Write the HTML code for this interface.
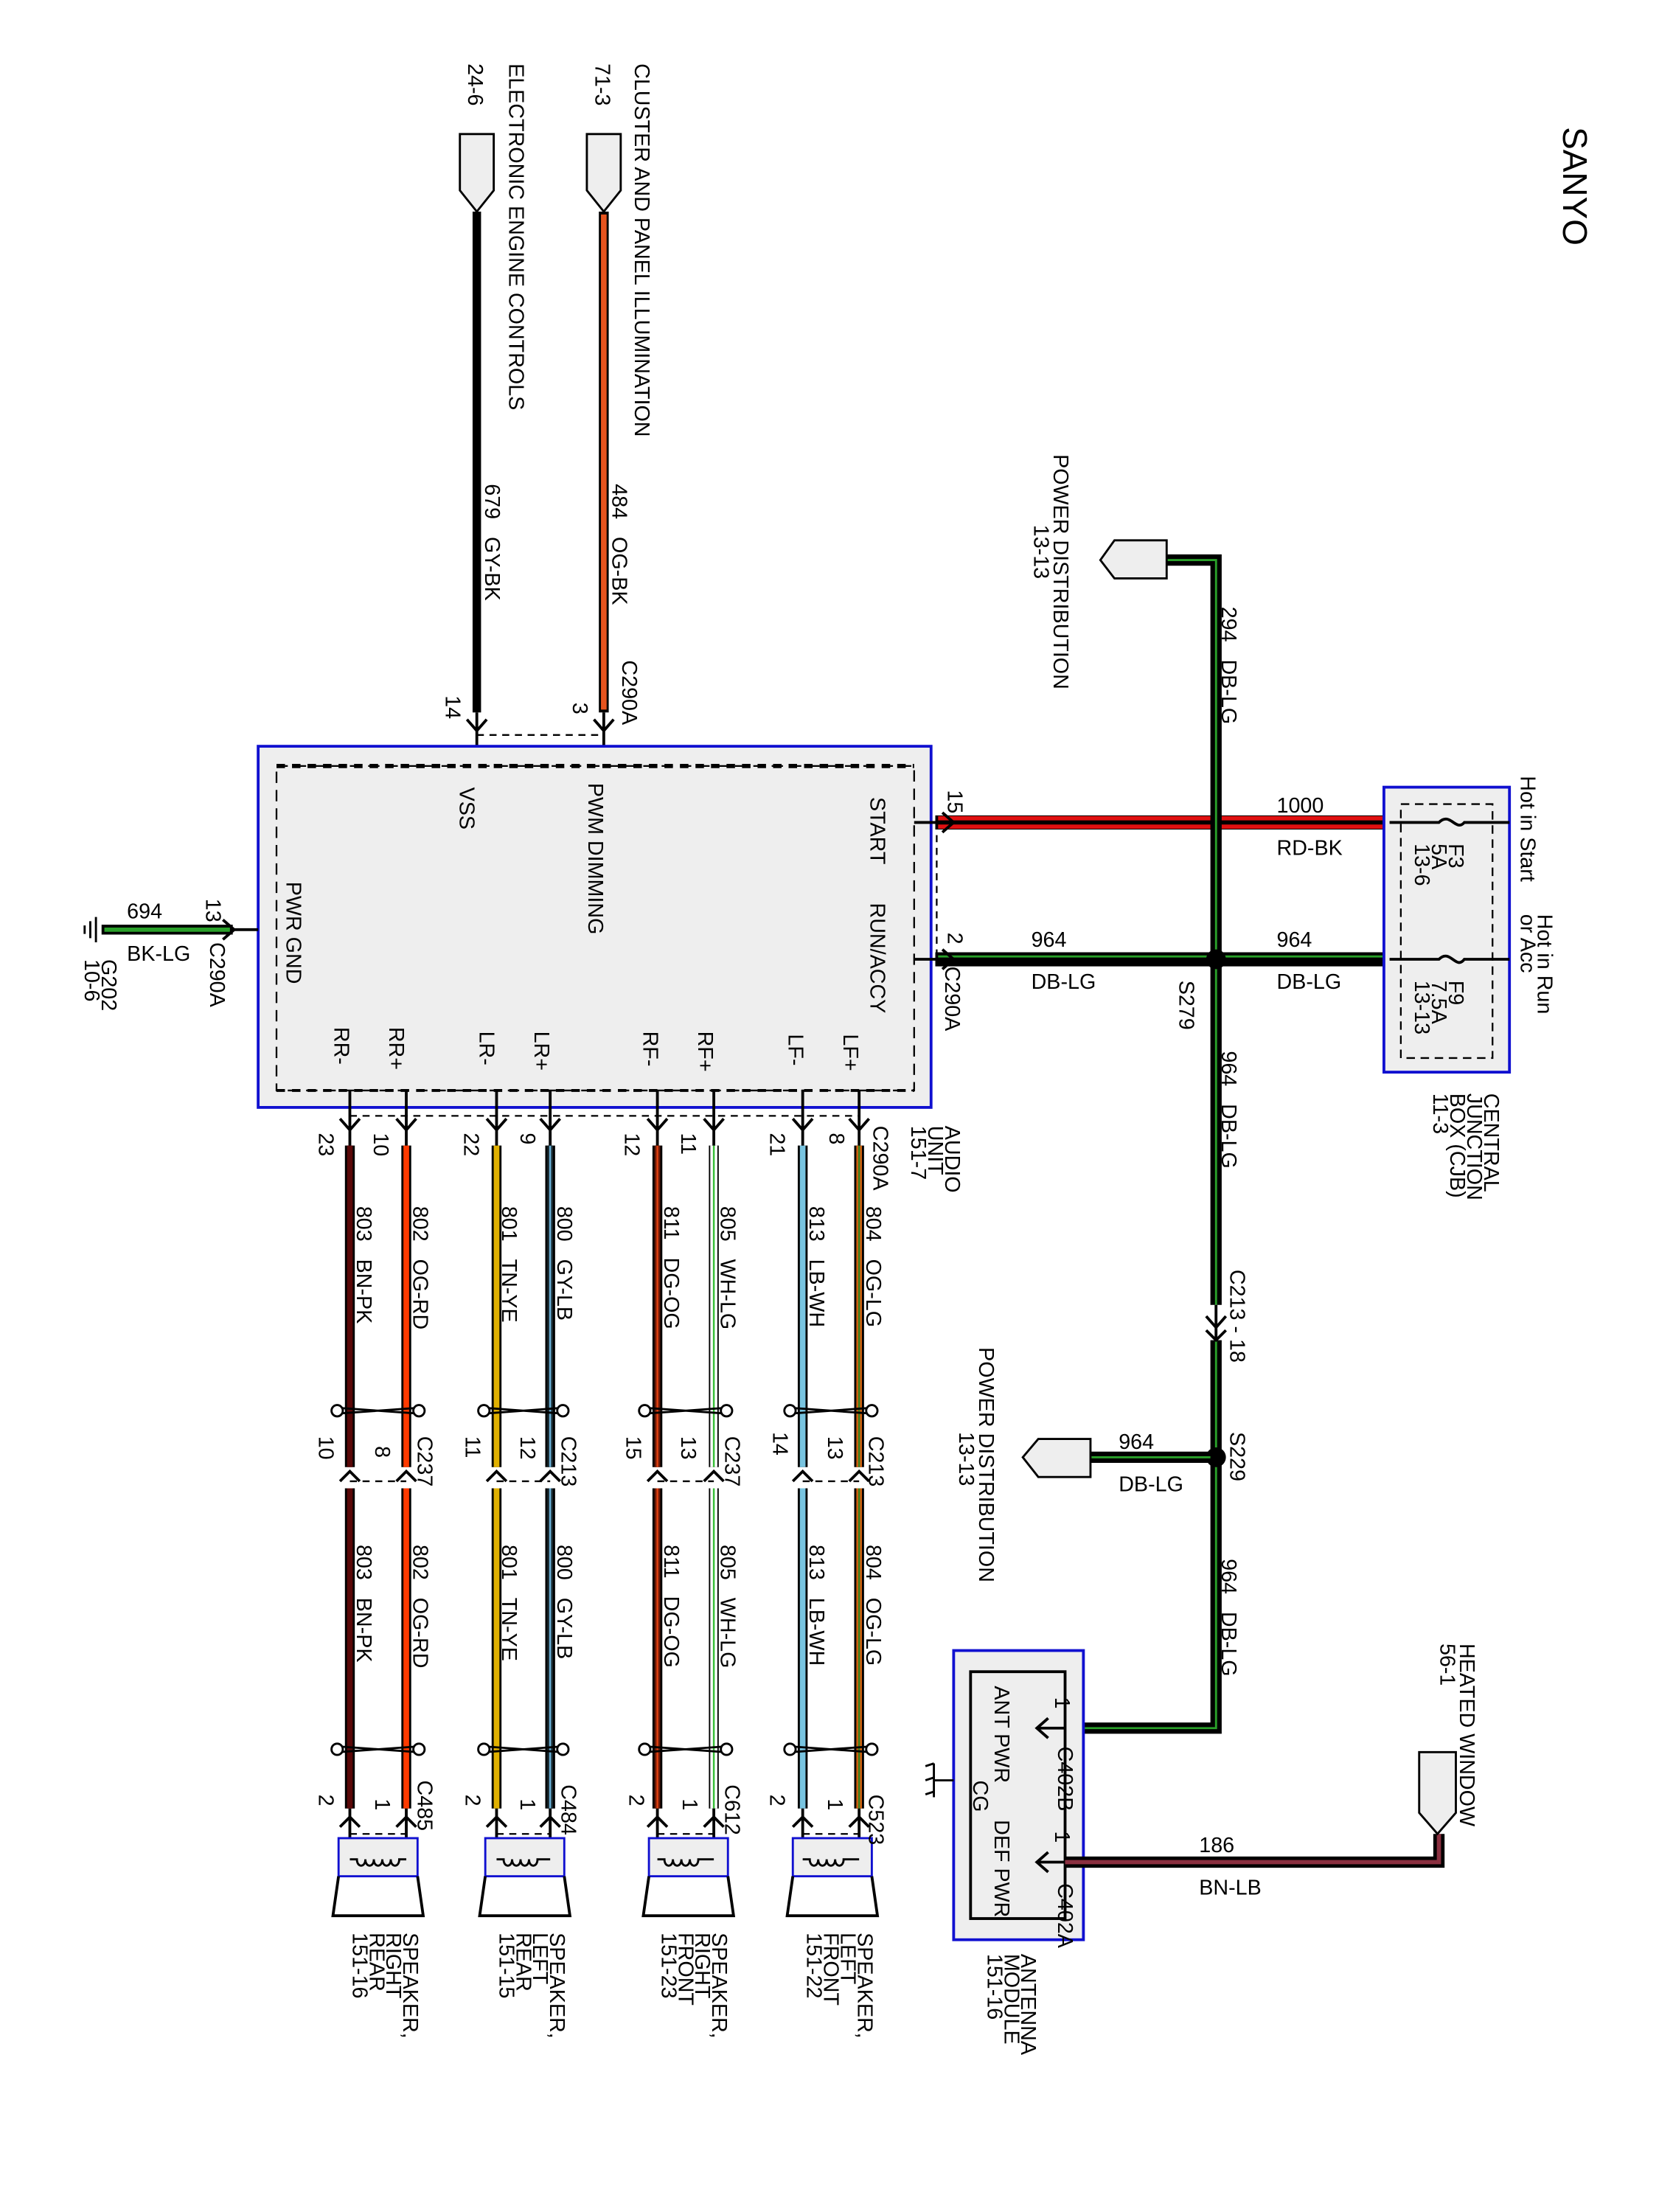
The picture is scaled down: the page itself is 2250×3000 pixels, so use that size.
<!DOCTYPE html>
<html><head><meta charset="utf-8"><style>
html,body{margin:0;padding:0;background:#fff}
svg{display:block}
text{font-family:"Liberation Sans",sans-serif;font-size:15px;fill:#000}
</style></head><body>
<svg width="2250" height="3000" viewBox="0 0 1176 1568" xmlns="http://www.w3.org/2000/svg">
<rect width="1176" height="1568" fill="#fff"/>
<text x="1108" y="90" transform="rotate(90 1108 90)" style="font-size:24px">SANYO</text>

<path d="M326 95 H350 V135 L338 150 L326 135 Z" fill="#eee" stroke="#000" stroke-width="1.5"/>
<path d="M416 95 H440 V135 L428 150 L416 135 Z" fill="#eee" stroke="#000" stroke-width="1.5"/>
<text x="332" y="45" transform="rotate(90 332 45)">24-6</text>
<text x="361" y="45" transform="rotate(90 361 45)">ELECTRONIC ENGINE CONTROLS</text>
<text x="422" y="45" transform="rotate(90 422 45)">71-3</text>
<text x="450" y="45" transform="rotate(90 450 45)">CLUSTER AND PANEL ILLUMINATION</text>
<line x1="338" y1="150" x2="338" y2="505" stroke="#000" stroke-width="6"/>
<line x1="428" y1="150" x2="428" y2="505" stroke="#000" stroke-width="7"/>
<line x1="428" y1="152" x2="428" y2="503" stroke="#e8541e" stroke-width="4"/>
<text x="344" y="343" transform="rotate(90 344 343)">679&#160;&#160;&#160;GY-BK</text>
<text x="434" y="343" transform="rotate(90 434 343)">484&#160;&#160;&#160;OG-BK</text>
<text x="441" y="468" transform="rotate(90 441 468)">C290A</text>
<text x="406" y="498" transform="rotate(90 406 498)">3</text>
<text x="316" y="493" transform="rotate(90 316 493)">14</text>
<g stroke="#000" stroke-width="2" fill="none">
<path d="M331 510 L338 518 L345 510 M338 505 V529 M421 510 L428 518 L435 510 M428 505 V529"/>
<path d="M338 521 H428" stroke-dasharray="5 4" stroke-width="1.2"/>
</g>

<rect x="183" y="529" width="477" height="256" fill="#eee" stroke="#1010d0" stroke-width="2"/>
<rect x="196" y="543" width="452" height="230" fill="none" stroke="#000" stroke-width="1.2" stroke-dasharray="8 5"/>
<line x1="196" y1="543" x2="648" y2="543" stroke="#000" stroke-width="3" stroke-dasharray="6 5"/>
<line x1="196" y1="773" x2="648" y2="773" stroke="#000" stroke-width="2" stroke-dasharray="6 5"/>
<text x="326" y="558" transform="rotate(90 326 558)">VSS</text>
<text x="417" y="555" transform="rotate(90 417 555)">PWM DIMMING</text>
<text x="617" y="565" transform="rotate(90 617 565)">START</text>
<text x="617" y="640" transform="rotate(90 617 640)">RUN/ACCY</text>
<text x="203" y="625" transform="rotate(90 203 625)">PWR GND</text>
<text x="237" y="728" transform="rotate(90 237 728)">RR-</text>
<text x="276" y="728" transform="rotate(90 276 728)">RR+</text>
<text x="340" y="731" transform="rotate(90 340 731)">LR-</text>
<text x="379" y="731" transform="rotate(90 379 731)">LR+</text>
<text x="456" y="731" transform="rotate(90 456 731)">RF-</text>
<text x="495" y="731" transform="rotate(90 495 731)">RF+</text>
<text x="559" y="733" transform="rotate(90 559 733)">LF-</text>
<text x="598" y="733" transform="rotate(90 598 733)">LF+</text>
<text x="670" y="798" transform="rotate(90 670 798)">AUDIO</text>
<text x="658" y="798" transform="rotate(90 658 798)">UNIT</text>
<text x="646" y="798" transform="rotate(90 646 798)">151-7</text>
<text x="619" y="798" transform="rotate(90 619 798)">C290A</text>
<path d="M248 791 H609" stroke="#000" stroke-width="1.2" stroke-dasharray="5 4"/>

<line x1="72" y1="659" x2="165" y2="659" stroke="#000" stroke-width="7"/>
<line x1="74" y1="659" x2="163" y2="659" stroke="#2aa02a" stroke-width="3"/>
<path d="M165 659 H183 M158 652 L166 659 L158 666" stroke="#000" stroke-width="2" fill="none"/>
<path d="M68 650 V668 M64 653 V665 M60 656 V662" stroke="#000" stroke-width="1.5"/>
<text x="90" y="651">694</text>
<text x="90" y="681">BK-LG</text>
<text x="146" y="637" transform="rotate(90 146 637)">13</text>
<text x="149" y="668" transform="rotate(90 149 668)">C290A</text>
<text x="72" y="680" transform="rotate(90 72 680)">G202</text>
<text x="60" y="680" transform="rotate(90 60 680)">10-6</text>

<line x1="663" y1="583" x2="985" y2="583" stroke="#000" stroke-width="10"/>
<line x1="665" y1="580" x2="983" y2="580" stroke="#e01010" stroke-width="3"/>
<line x1="665" y1="586" x2="983" y2="586" stroke="#e01010" stroke-width="3"/>
<line x1="663" y1="680" x2="985" y2="680" stroke="#000" stroke-width="10"/>
<line x1="665" y1="678" x2="983" y2="678" stroke="#2aa02a" stroke-width="1.5"/>
<path d="M648 583 H675 M668 576 L676 583 L668 590 M648 680 H675 M668 673 L676 680 L668 687" stroke="#000" stroke-width="2" fill="none"/>
<path d="M664 583 V680" stroke="#000" stroke-width="1.2" stroke-dasharray="5 4"/>
<text x="672" y="560" transform="rotate(90 672 560)">15</text>
<text x="672" y="661" transform="rotate(90 672 661)">2</text>
<text x="670" y="685" transform="rotate(90 670 685)">C290A</text>
<text x="905" y="576">1000</text>
<text x="905" y="606">RD-BK</text>
<text x="731" y="671">964</text>
<text x="731" y="701">DB-LG</text>
<text x="905" y="671">964</text>
<text x="905" y="701">DB-LG</text>

<path d="M827 397 H862 V1225 H752" stroke="#000" stroke-width="8" fill="none"/>
<path d="M827 397 H862 V1225 H752" stroke="#2aa02a" stroke-width="1.5" fill="none"/>
<rect x="855" y="925" width="14" height="25" fill="#fff"/>
<path d="M862 925 V950 M855 933 L862 941 L869 933 M855 943 L862 950 L869 943" stroke="#000" stroke-width="2" fill="none"/>
<circle cx="862" cy="680" r="7" fill="#000"/>
<circle cx="862" cy="1033" r="7" fill="#000"/>
<path d="M780 397 L790 383 H827 V410 H790 Z" fill="#eee" stroke="#000" stroke-width="1.5"/>
<text x="747" y="322" transform="rotate(90 747 322)">POWER DISTRIBUTION</text>
<text x="733" y="372" transform="rotate(90 733 372)">13-13</text>
<text x="866" y="430" transform="rotate(90 866 430)">294&#160;&#160;&#160;DB-LG</text>
<text x="836" y="695" transform="rotate(90 836 695)">S279</text>
<text x="866" y="745" transform="rotate(90 866 745)">964&#160;&#160;&#160;DB-LG</text>
<text x="872" y="900" transform="rotate(90 872 900)">C213 - 18</text>
<text x="872" y="1015" transform="rotate(90 872 1015)">S229</text>
<text x="866" y="1105" transform="rotate(90 866 1105)">964&#160;&#160;&#160;DB-LG</text>
<line x1="773" y1="1033" x2="862" y2="1033" stroke="#000" stroke-width="8"/>
<line x1="773" y1="1033" x2="858" y2="1033" stroke="#2aa02a" stroke-width="1.5"/>
<path d="M725 1033 L736 1020 H773 V1047 H736 Z" fill="#eee" stroke="#000" stroke-width="1.5"/>
<text x="793" y="1027">964</text>
<text x="793" y="1057">DB-LG</text>
<text x="694" y="955" transform="rotate(90 694 955)">POWER DISTRIBUTION</text>
<text x="680" y="1015" transform="rotate(90 680 1015)">13-13</text>

<rect x="981" y="558" width="89" height="202" fill="#eee" stroke="#1010d0" stroke-width="2"/>
<rect x="993" y="570" width="65" height="180" fill="none" stroke="#000" stroke-width="1.2" stroke-dasharray="6 4"/>
<path d="M985 583 H1020 C1028 575 1032 590 1038 583 H1070 M985 680 H1020 C1028 672 1032 688 1038 680 H1070" stroke="#000" stroke-width="2" fill="none"/>
<text x="1027" y="598" transform="rotate(90 1027 598)">F3</text>
<text x="1015" y="598" transform="rotate(90 1015 598)">5A</text>
<text x="1003" y="598" transform="rotate(90 1003 598)">13-6</text>
<text x="1027" y="695" transform="rotate(90 1027 695)">F9</text>
<text x="1015" y="695" transform="rotate(90 1015 695)">7.5A</text>
<text x="1003" y="695" transform="rotate(90 1003 695)">13-13</text>
<text x="1078" y="550" transform="rotate(90 1078 550)">Hot in Start</text>
<text x="1090" y="648" transform="rotate(90 1090 648)">Hot in Run</text>
<text x="1078" y="648" transform="rotate(90 1078 648)">or Acc</text>
<text x="1052" y="775" transform="rotate(90 1052 775)">CENTRAL</text>
<text x="1040" y="775" transform="rotate(90 1040 775)">JUNCTION</text>
<text x="1028" y="775" transform="rotate(90 1028 775)">BOX (CJB)</text>
<text x="1016" y="775" transform="rotate(90 1016 775)">11-3</text>

<rect x="676" y="1170" width="92" height="205" fill="#eee" stroke="#1010d0" stroke-width="2"/>
<rect x="688" y="1185" width="67" height="175" fill="none" stroke="#000" stroke-width="2"/>
<text x="705" y="1195" transform="rotate(90 705 1195)">ANT PWR</text>
<text x="690" y="1262" transform="rotate(90 690 1262)">CG</text>
<text x="705" y="1290" transform="rotate(90 705 1290)">DEF PWR</text>
<path d="M676 1262 H662 M662 1250 V1274 M656 1252 L662 1250 M656 1262 L662 1260 M656 1272 L662 1270" stroke="#000" stroke-width="1.5" fill="none"/>
<path d="M736 1225 H755 M743 1218 L735 1225 L743 1232 M736 1320 H755 M743 1313 L735 1320 L743 1327" stroke="#000" stroke-width="2" fill="none"/>
<text x="748" y="1203" transform="rotate(90 748 1203)">1</text>
<text x="750" y="1238" transform="rotate(90 750 1238)">C402B</text>
<text x="748" y="1298" transform="rotate(90 748 1298)">1</text>
<text x="750" y="1335" transform="rotate(90 750 1335)">C402A</text>
<text x="724" y="1385" transform="rotate(90 724 1385)">ANTENNA</text>
<text x="712" y="1385" transform="rotate(90 712 1385)">MODULE</text>
<text x="700" y="1385" transform="rotate(90 700 1385)">151-16</text>
<path d="M755 1320 H1020 V1300" stroke="#000" stroke-width="8" fill="none"/>
<path d="M755 1320 H1020 V1300" stroke="#8a3040" stroke-width="3" fill="none"/>
<path d="M1006 1242 H1032 V1285 L1019 1300 L1006 1285 Z" fill="#eee" stroke="#000" stroke-width="1.5"/>
<text x="850" y="1313">186</text>
<text x="850" y="1343">BN-LB</text>
<text x="1035" y="1165" transform="rotate(90 1035 1165)">HEATED WINDOW</text>
<text x="1021" y="1165" transform="rotate(90 1021 1165)">56-1</text>

<g>
<g stroke="#000" stroke-width="7">
<line x1="248" y1="812" x2="248" y2="1040"/><line x1="248" y1="1055" x2="248" y2="1282"/>
<line x1="288" y1="812" x2="288" y2="1040"/><line x1="288" y1="1055" x2="288" y2="1282"/>
<line x1="352" y1="812" x2="352" y2="1040"/><line x1="352" y1="1055" x2="352" y2="1282"/>
<line x1="390" y1="812" x2="390" y2="1040"/><line x1="390" y1="1055" x2="390" y2="1282"/>
<line x1="466" y1="812" x2="466" y2="1040"/><line x1="466" y1="1055" x2="466" y2="1282"/>
<line x1="506" y1="812" x2="506" y2="1040"/><line x1="506" y1="1055" x2="506" y2="1282"/>
<line x1="569" y1="812" x2="569" y2="1040"/><line x1="569" y1="1055" x2="569" y2="1282"/>
<line x1="609" y1="812" x2="609" y2="1040"/><line x1="609" y1="1055" x2="609" y2="1282"/>
</g>
<g stroke-width="4">
<path d="M248 812 V1040 M248 1055 V1282" stroke="#5a0808"/>
<path d="M288 812 V1040 M288 1055 V1282" stroke="#ff3a00"/>
<path d="M352 812 V1040 M352 1055 V1282" stroke="#e0b000"/>
<path d="M390 812 V1040 M390 1055 V1282" stroke="#1a2a30"/>
<path d="M466 812 V1040 M466 1055 V1282" stroke="#6a1a08"/>
<path d="M506 812 V1040 M506 1055 V1282" stroke="#fff" stroke-width="5"/>
<path d="M569 812 V1040 M569 1055 V1282" stroke="#78c4e0"/>
<path d="M609 812 V1040 M609 1055 V1282" stroke="#d06010"/>
</g>
<g stroke-width="1.3">
<path d="M390 812 V1040 M390 1055 V1282" stroke="#6ab0d8"/>
<path d="M506 812 V1040 M506 1055 V1282" stroke="#3ac03a"/>
<path d="M609 812 V1040 M609 1055 V1282" stroke="#3a8020"/>
<path d="M466 812 V1040 M466 1055 V1282" stroke="#e04010"/>
</g>
<g stroke="#000" stroke-width="2" fill="none">
<path d="M248 773 V812 M241 793 L248 801 L255 793 M288 773 V812 M281 793 L288 801 L295 793 M352 773 V812 M345 793 L352 801 L359 793 M390 773 V812 M383 793 L390 801 L397 793 M466 773 V812 M459 793 L466 801 L473 793 M506 773 V812 M499 793 L506 801 L513 793 M569 773 V812 M562 793 L569 801 L576 793 M609 773 V812 M602 793 L609 801 L616 793"/>
<path d="M241 1050 L248 1043 L255 1050 M281 1050 L288 1043 L295 1050 M345 1050 L352 1043 L359 1050 M383 1050 L390 1043 L397 1050 M459 1050 L466 1043 L473 1050 M499 1050 L506 1043 L513 1050 M562 1050 L569 1043 L576 1050 M602 1050 L609 1043 L616 1050"/>
<path d="M241 1295 L248 1288 L255 1295 M281 1295 L288 1288 L295 1295 M345 1295 L352 1288 L359 1295 M383 1295 L390 1288 L397 1295 M459 1295 L466 1288 L473 1295 M499 1295 L506 1288 L513 1295 M562 1295 L569 1288 L576 1295 M602 1295 L609 1288 L616 1295"/>
<path d="M248 1282 V1318 M288 1282 V1318 M352 1282 V1318 M390 1282 V1318 M466 1282 V1318 M506 1282 V1318 M569 1282 V1318 M609 1282 V1318"/>
<g stroke-width="1.2" stroke-dasharray="5 4"><path d="M248 1050 H288 M352 1050 H390 M466 1050 H506 M569 1050 H609 M248 1300 H288 M352 1300 H390 M466 1300 H506 M569 1300 H609"/></g>
<path d="M240 998 L296 1002 M240 1002 L296 998 M344 998 L398 1002 M344 1002 L398 998 M458 998 L514 1002 M458 1002 L514 998 M561 998 L617 1002 M561 1002 L617 998" stroke-width="1.5"/>
<path d="M240 1238 L296 1242 M240 1242 L296 1238 M344 1238 L398 1242 M344 1242 L398 1238 M458 1238 L514 1242 M458 1242 L514 1238 M561 1238 L617 1242 M561 1242 L617 1238" stroke-width="1.5"/>
</g>
<g fill="#fff" stroke="#000" stroke-width="1.5">
<circle cx="239" cy="1000" r="4"/><circle cx="297" cy="1000" r="4"/><circle cx="343" cy="1000" r="4"/><circle cx="399" cy="1000" r="4"/><circle cx="457" cy="1000" r="4"/><circle cx="515" cy="1000" r="4"/><circle cx="560" cy="1000" r="4"/><circle cx="618" cy="1000" r="4"/>
<circle cx="239" cy="1240" r="4"/><circle cx="297" cy="1240" r="4"/><circle cx="343" cy="1240" r="4"/><circle cx="399" cy="1240" r="4"/><circle cx="457" cy="1240" r="4"/><circle cx="515" cy="1240" r="4"/><circle cx="560" cy="1240" r="4"/><circle cx="618" cy="1240" r="4"/>
</g>
<g stroke-width="1.5">
<rect x="240" y="1303" width="56" height="27" fill="#eee" stroke="#1010d0"/>
<rect x="344" y="1303" width="56" height="27" fill="#eee" stroke="#1010d0"/>
<rect x="460" y="1303" width="56" height="27" fill="#eee" stroke="#1010d0"/>
<rect x="562" y="1303" width="56" height="27" fill="#eee" stroke="#1010d0"/>
<path d="M240 1330 L236 1358 H300 L296 1330 M344 1330 L340 1358 H404 L400 1330 M460 1330 L456 1358 H520 L516 1330 M562 1330 L558 1358 H622 L618 1330" stroke="#000" stroke-width="2" fill="none"/>
<path d="M248 1318 H253 c0 6 6 6 6 0 c0 6 6 6 6 0 c0 6 6 6 6 0 c0 6 6 6 6 0 c0 6 6 6 6 0 V1318 H288 M352 1318 H357 c0 6 6 6 6 0 c0 6 6 6 6 0 c0 6 6 6 6 0 c0 6 6 6 6 0 V1318 H390 M466 1318 H471 c0 6 6 6 6 0 c0 6 6 6 6 0 c0 6 6 6 6 0 c0 6 6 6 6 0 V1318 H506 M569 1318 H574 c0 6 6 6 6 0 c0 6 6 6 6 0 c0 6 6 6 6 0 c0 6 6 6 6 0 V1318 H609" stroke="#000" fill="none"/>
</g>
</g>
<g>
<text x="226" y="803" transform="rotate(90 226 803)">23</text>
<text x="265" y="803" transform="rotate(90 265 803)">10</text>
<text x="329" y="803" transform="rotate(90 329 803)">22</text>
<text x="369" y="803" transform="rotate(90 369 803)">9</text>
<text x="443" y="803" transform="rotate(90 443 803)">12</text>
<text x="483" y="803" transform="rotate(90 483 803)">11</text>
<text x="546" y="803" transform="rotate(90 546 803)">21</text>
<text x="588" y="803" transform="rotate(90 588 803)">8</text>

<text x="226" y="1018" transform="rotate(90 226 1018)">10</text>
<text x="266" y="1025" transform="rotate(90 266 1025)">8</text>
<text x="296" y="1018" transform="rotate(90 296 1018)">C237</text>
<text x="330" y="1018" transform="rotate(90 330 1018)">11</text>
<text x="369" y="1018" transform="rotate(90 369 1018)">12</text>
<text x="398" y="1018" transform="rotate(90 398 1018)">C213</text>
<text x="444" y="1018" transform="rotate(90 444 1018)">15</text>
<text x="483" y="1018" transform="rotate(90 483 1018)">13</text>
<text x="514" y="1018" transform="rotate(90 514 1018)">C237</text>
<text x="548" y="1015" transform="rotate(90 548 1015)">14</text>
<text x="587" y="1018" transform="rotate(90 587 1018)">13</text>
<text x="616" y="1018" transform="rotate(90 616 1018)">C213</text>

<text x="226" y="1272" transform="rotate(90 226 1272)">2</text>
<text x="266" y="1275" transform="rotate(90 266 1275)">1</text>
<text x="296" y="1262" transform="rotate(90 296 1262)">C485</text>
<text x="330" y="1272" transform="rotate(90 330 1272)">2</text>
<text x="369" y="1275" transform="rotate(90 369 1275)">1</text>
<text x="398" y="1265" transform="rotate(90 398 1265)">C484</text>
<text x="446" y="1272" transform="rotate(90 446 1272)">2</text>
<text x="484" y="1275" transform="rotate(90 484 1275)">1</text>
<text x="514" y="1265" transform="rotate(90 514 1265)">C612</text>
<text x="546" y="1272" transform="rotate(90 546 1272)">2</text>
<text x="587" y="1275" transform="rotate(90 587 1275)">1</text>
<text x="616" y="1272" transform="rotate(90 616 1272)">C523</text>

<text x="253" y="855" transform="rotate(90 253 855)">803&#160;&#160;&#160;BN-PK</text>
<text x="293" y="855" transform="rotate(90 293 855)">802&#160;&#160;&#160;OG-RD</text>
<text x="356" y="855" transform="rotate(90 356 855)">801&#160;&#160;&#160;TN-YE</text>
<text x="395" y="855" transform="rotate(90 395 855)">800&#160;&#160;&#160;GY-LB</text>
<text x="471" y="855" transform="rotate(90 471 855)">811&#160;&#160;&#160;DG-OG</text>
<text x="511" y="855" transform="rotate(90 511 855)">805&#160;&#160;&#160;WH-LG</text>
<text x="574" y="855" transform="rotate(90 574 855)">813&#160;&#160;&#160;LB-WH</text>
<text x="614" y="855" transform="rotate(90 614 855)">804&#160;&#160;&#160;OG-LG</text>
<text x="253" y="1095" transform="rotate(90 253 1095)">803&#160;&#160;&#160;BN-PK</text>
<text x="293" y="1095" transform="rotate(90 293 1095)">802&#160;&#160;&#160;OG-RD</text>
<text x="356" y="1095" transform="rotate(90 356 1095)">801&#160;&#160;&#160;TN-YE</text>
<text x="395" y="1095" transform="rotate(90 395 1095)">800&#160;&#160;&#160;GY-LB</text>
<text x="471" y="1095" transform="rotate(90 471 1095)">811&#160;&#160;&#160;DG-OG</text>
<text x="511" y="1095" transform="rotate(90 511 1095)">805&#160;&#160;&#160;WH-LG</text>
<text x="574" y="1095" transform="rotate(90 574 1095)">813&#160;&#160;&#160;LB-WH</text>
<text x="614" y="1095" transform="rotate(90 614 1095)">804&#160;&#160;&#160;OG-LG</text>

<text x="286" y="1370" transform="rotate(90 286 1370)">SPEAKER,</text>
<text x="274" y="1370" transform="rotate(90 274 1370)">RIGHT</text>
<text x="262" y="1370" transform="rotate(90 262 1370)">REAR</text>
<text x="250" y="1370" transform="rotate(90 250 1370)">151-16</text>
<text x="390" y="1370" transform="rotate(90 390 1370)">SPEAKER,</text>
<text x="378" y="1370" transform="rotate(90 378 1370)">LEFT</text>
<text x="366" y="1370" transform="rotate(90 366 1370)">REAR</text>
<text x="354" y="1370" transform="rotate(90 354 1370)">151-15</text>
<text x="505" y="1370" transform="rotate(90 505 1370)">SPEAKER,</text>
<text x="493" y="1370" transform="rotate(90 493 1370)">RIGHT</text>
<text x="481" y="1370" transform="rotate(90 481 1370)">FRONT</text>
<text x="469" y="1370" transform="rotate(90 469 1370)">151-23</text>
<text x="608" y="1370" transform="rotate(90 608 1370)">SPEAKER,</text>
<text x="596" y="1370" transform="rotate(90 596 1370)">LEFT</text>
<text x="584" y="1370" transform="rotate(90 584 1370)">FRONT</text>
<text x="572" y="1370" transform="rotate(90 572 1370)">151-22</text>
</g>
</svg>
</body></html>
